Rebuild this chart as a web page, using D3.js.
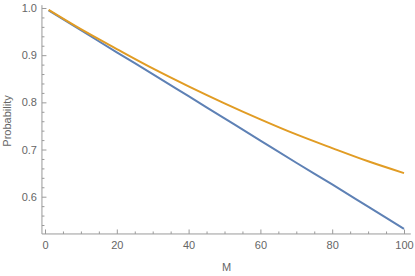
<!DOCTYPE html>
<html><head><meta charset="utf-8">
<script src="https://cdn.jsdelivr.net/npm/d3@7"></script>
<style>
html,body{margin:0;padding:0;background:#fff;}
svg{display:block;}
.axis path{display:none;}
.axis line{stroke:#9a9a9a;stroke-width:1;}
.axis text{fill:#666;font-family:"Liberation Sans",Arial,sans-serif;font-size:11px;}
</style></head>
<body>
<svg id="c" width="415" height="276"></svg>
<script>
// Data
const M = [1, 10, 20, 30, 40, 50, 60, 70, 80, 90, 100];
const blueValues = [0.995, 0.953, 0.906, 0.860, 0.813, 0.766, 0.719, 0.672, 0.626, 0.579, 0.532];
const orangeValues = [0.996, 0.955, 0.913, 0.872, 0.834, 0.798, 0.764, 0.732, 0.703, 0.675, 0.650];
const xTicks = [0, 20, 40, 60, 80, 100];
const yTicks = [0.6, 0.7, 0.8, 0.9, 1.0];
const xLabel = "M";
const yLabel = "Probability";

const svg = d3.select("#c");
const x = d3.scaleLinear().domain([0, 100]).range([45, 404]);
const y = d3.scaleLinear().domain([0.6, 1.0]).range([196.7, 8]);
const xMin = -0.85, xMax = 101.9, yMin = 0.521, yMax = 1.006;

const axisColor = "#9a9a9a";
// axis lines
svg.append("line").attr("x1", x(xMin)).attr("x2", x(xMax)).attr("y1", y(yMin)).attr("y2", y(yMin))
  .attr("stroke", axisColor).attr("stroke-width", 1);
svg.append("line").attr("x1", x(xMin)).attr("x2", x(xMin)).attr("y1", y(yMin)).attr("y2", y(yMax))
  .attr("stroke", axisColor).attr("stroke-width", 1);

// minor ticks
const xMinor = d3.range(0, 101, 5).filter(v => v % 20 !== 0);
const yMinor = d3.range(0.54, 1.001, 0.02).filter(v => Math.abs(v*10 - Math.round(v*10)) > 1e-6);

svg.append("g").attr("class", "axis").attr("transform", `translate(0,${y(yMin)})`)
  .call(d3.axisBottom(x).tickValues(xMinor).tickSize(-2.5).tickFormat(""));
svg.append("g").attr("class", "axis").attr("transform", `translate(0,${y(yMin)})`)
  .call(d3.axisBottom(x).tickValues(xTicks).tickSize(-4.5).tickPadding(7).tickFormat(d3.format("d")));

svg.append("g").attr("class", "axis").attr("transform", `translate(${x(xMin)},0)`)
  .call(d3.axisLeft(y).tickValues(yMinor).tickSize(-2.5).tickFormat(""));
svg.append("g").attr("class", "axis").attr("transform", `translate(${x(xMin)},0)`)
  .call(d3.axisLeft(y).tickValues(yTicks).tickSize(-4.5).tickPadding(5).tickFormat(d3.format(".1f")));

// lines
const line = vals => d3.line().x((d, i) => x(M[i])).y(d => y(d)).curve(d3.curveMonotoneX)(vals);
svg.append("path").attr("d", line(blueValues)).attr("fill", "none")
  .attr("stroke", "#5E81B5").attr("stroke-width", 2);
svg.append("path").attr("d", line(orangeValues)).attr("fill", "none")
  .attr("stroke", "#E19C24").attr("stroke-width", 2);

// axis labels
svg.append("text").attr("x", 226.5).attr("y", 271).attr("text-anchor", "middle")
  .attr("fill", "#666").attr("font-family", "Liberation Sans, Arial, sans-serif").attr("font-size", 11)
  .text(xLabel);
svg.append("text").attr("transform", "translate(11,121) rotate(-90)").attr("text-anchor", "middle")
  .attr("fill", "#666").attr("font-family", "Liberation Sans, Arial, sans-serif").attr("font-size", 11)
  .text(yLabel);
</script>
</body></html>
